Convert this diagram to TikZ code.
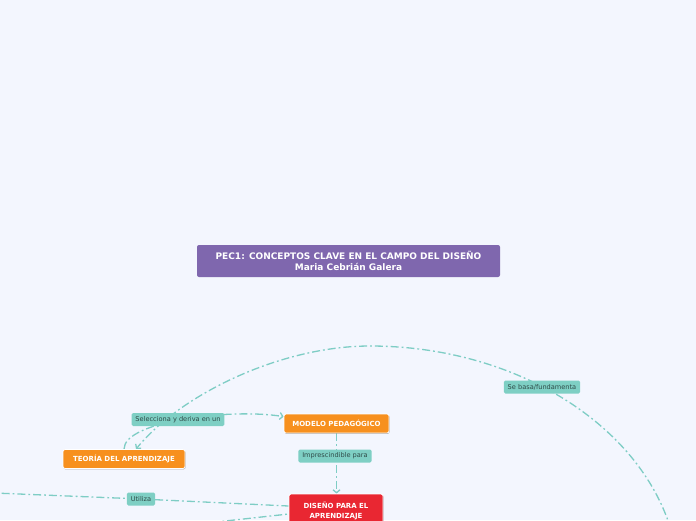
\documentclass[tikz,border=0pt]{standalone}
\usepackage{fontspec}
\setmainfont{DejaVu Sans}
\usetikzlibrary{arrows.meta, calc, shadows, backgrounds}

\definecolor{bgblue}{HTML}{F3F6FE}
\definecolor{titlepurple}{HTML}{7F67AE}
\definecolor{topicorange}{HTML}{F7901E}
\definecolor{goalred}{HTML}{E92732}
\definecolor{tagteal}{HTML}{7ECFC4}
\definecolor{linkteal}{HTML}{7ECDC5}
\definecolor{tagtext}{HTML}{2E4A47}

\begin{document}
\begin{tikzpicture}[
    x=1pt, y=-1pt,
    >={Straight Barb[length=3pt,width=7pt]},
    link/.style={draw=linkteal, line width=1.3pt,
                 dash pattern=on 8pt off 3pt on 1.8pt off 3pt},
    tag/.style={fill=tagteal, text=tagtext, rounded corners=1.5pt,
                font=\fontsize{6.6}{7}\selectfont, inner xsep=3.8pt,
                inner ysep=0pt, minimum height=13pt},
    topic/.style={fill=topicorange, draw=white, line width=0.8pt,
                  rounded corners=2pt, text=white, minimum height=19pt,
                  font=\fontsize{7}{8}\selectfont\bfseries,
                  drop shadow={shadow xshift=0.5pt, shadow yshift=-0.9pt,
                               opacity=0.3, fill=black}},
    goal/.style={topic, fill=goalred, align=center,
                 font=\fontsize{7}{10}\selectfont\bfseries},
    heading/.style={fill=titlepurple, rounded corners=2pt, text=white,
                    align=center, font=\fontsize{9}{11}\selectfont\bfseries},
]

% ---- canvas ----
\useasboundingbox (0,0) rectangle (696,520);
\clip (0,0) rectangle (696,520);

% ---- title ----
\node[heading, minimum width=303, minimum height=32] (pec) at (348.5,261)
  {PEC1: CONCEPTOS CLAVE EN EL CAMPO DEL DISEÑO\\Maria Cebrián Galera};

% ---- concepts ----
\node[topic, minimum width=105] (modelo) at (336.5,423.5) {MODELO PEDAGÓGICO};
\node[topic, minimum width=122] (teoria) at (124,459) {TEORÍA DEL APRENDIZAJE};
\node[goal, minimum width=94, minimum height=34] (diseno) at (336,511)
  {DISEÑO PARA EL\\APRENDIZAJE};

% ---- link labels ----
\node[tag] (selecciona) at (178,419.5) {Selecciona y deriva en un};
\node[tag] (imprescindible) at (335,456) {Imprescindible para};
\node[tag] (utiliza) at (141,499) {Utiliza};
\node[tag] (sebasa) at (542,387) {Se basa/fundamenta};

% ends of links to concepts outside the view
\coordinate (utilsrc) at (-30,492);
\coordinate (basasrc) at (675,545);
\coordinate (othersrc) at (180,526);

% ---- links (behind the nodes) ----
\begin{scope}[on background layer]
\fill[bgblue] (0,0) rectangle (696,520);

% TEORIA -> MODELO
\draw[link, ->] (teoria.north) .. controls +(0,-28) and (230,408)
  .. ($(modelo.north west)+(0,3)$);

% MODELO -> DISENO
\draw[link, ->] (modelo.south) -- (modelo.south |- diseno.north);

% big arc into TEORIA
\draw[link, ->] (basasrc) .. controls (650,430) and (520,346) .. (370,346)
  .. controls (280,346) and (180,395) .. ($(teoria.north)+(12,0)$);

% Utiliza
\draw[link] (utilsrc) -- (utiliza) -- ($(diseno.west)+(0,-5)$);
\draw[link] (othersrc) -- ($(diseno.west)+(0,3)$);
\end{scope}

\end{tikzpicture}
\end{document}
